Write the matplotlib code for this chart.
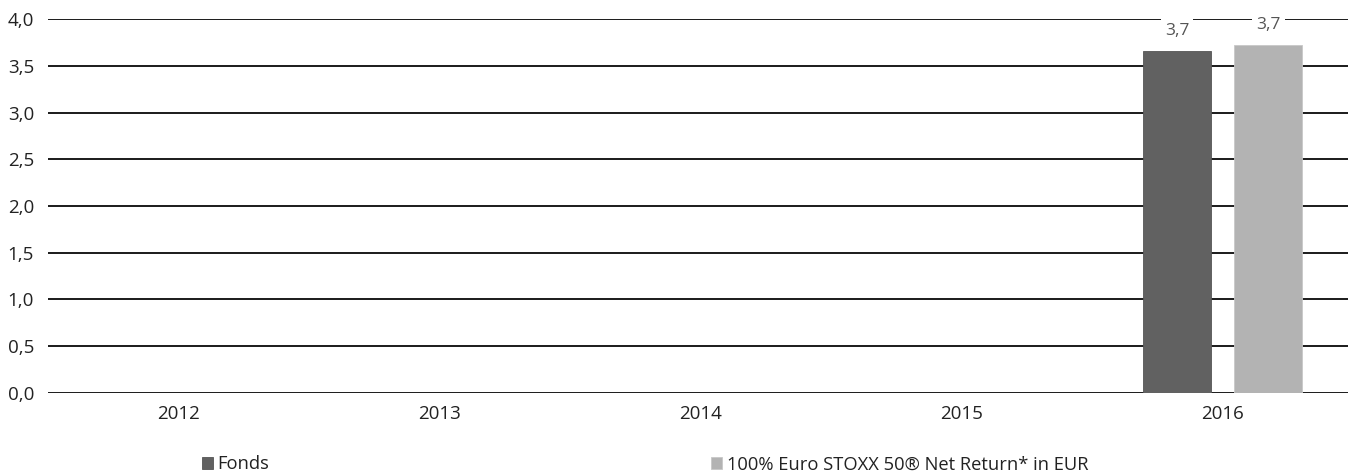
import matplotlib
matplotlib.use("Agg")
import matplotlib.pyplot as plt
import numpy as np

plt.rcParams['font.family'] = ['Open Sans', 'DejaVu Sans']

# Data
years = ['2012', '2013', '2014', '2015', '2016']
fonds = [np.nan, np.nan, np.nan, np.nan, 3.66]
benchmark = [np.nan, np.nan, np.nan, np.nan, 3.72]
labels = ['Fonds', '100% Euro STOXX 50® Net Return* in EUR']
colors = ['#616161', '#b3b3b3']

fig = plt.figure(figsize=(13.59, 4.72), dpi=100)
ax = fig.add_axes([0.0353, 0.1674, 0.9566, 0.7923])

x = np.arange(len(years))
w = 0.26
off = 0.175
b1 = ax.bar(x - off, fonds, w, color=colors[0], edgecolor='#555555', linewidth=0.6,
            label=labels[0], zorder=3)
b2 = ax.bar(x + off, benchmark, w, color=colors[1], edgecolor='#c8c8c8', linewidth=0.6,
            label=labels[1], zorder=3)

# value labels
for bars, vals in [(b1, fonds), (b2, benchmark)]:
    for rect, v in zip(bars, vals):
        if np.isnan(v):
            continue
        ax.text(rect.get_x() + rect.get_width() / 2, v + 0.13, f'{v:.1f}'.replace('.', ','),
                ha='center', va='bottom', fontsize=12.5, color='#555555', zorder=4,
                bbox=dict(facecolor='white', edgecolor='none', pad=3))

ax.set_xlim(-0.5, 4.48)
ax.set_ylim(0, 4.0)
ax.set_yticks(np.arange(0, 4.01, 0.5))
ax.set_yticklabels([f'{t:.1f}'.replace('.', ',') for t in np.arange(0, 4.01, 0.5)])
ax.set_xticks(x)
ax.set_xticklabels(years)
ax.tick_params(axis='both', length=0, labelsize=13.5, colors='#222222')
ax.tick_params(axis='x', pad=9)
ax.tick_params(axis='y', pad=10)
ax.yaxis.grid(True, color='#1a1a1a', linewidth=1.4, zorder=1)
ax.set_axisbelow(True)
for s in ax.spines.values():
    s.set_visible(False)

leg = fig.legend(handles=[b1, b2], labels=labels, loc='center left',
                 bbox_to_anchor=(0.142, 0.016), ncol=2, frameon=False,
                 fontsize=13.2, handlelength=0.6, handleheight=0.6,
                 handletextpad=0.25, columnspacing=24.1, borderpad=0)
for t in leg.get_texts():
    t.set_color('#222222')

fig.savefig('out.png', dpi=100)
